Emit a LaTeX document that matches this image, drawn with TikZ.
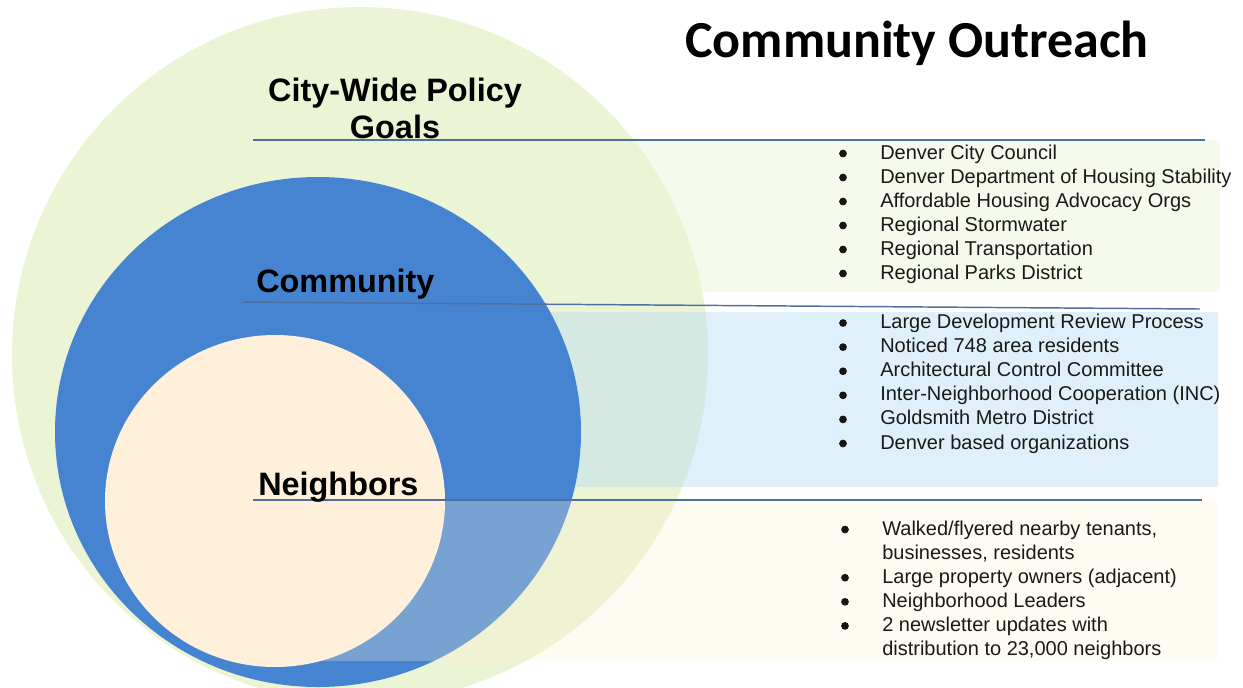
\documentclass[tikz,border=0pt]{standalone}
\usepackage{fontspec}
\setmainfont{Liberation Sans}
\newfontfamily\titlefont{Carlito}
\begin{document}
\begin{tikzpicture}[x=0.75pt,y=-0.75pt,
  ringlabel/.style={inner sep=0pt,font=\fontsize{24.3}{28}\selectfont\bfseries},
  item/.style={inner sep=0pt,anchor=base west,text=black!90,font=\fontsize{15}{18}\selectfont},
  dot/.style={circle,fill=black!92,inner sep=0pt,minimum size=5.8pt,yshift=5.5*0.75pt},
  rule/.style={draw={rgb,255:red,79;green,111;blue,160},line width=1.1pt}]
\definecolor{goalgreen}{RGB}{235,245,213}
\definecolor{bandgreen}{RGB}{245,250,236}
\definecolor{bandblue}{RGB}{175,217,245}
\definecolor{commblue}{RGB}{70,132,210}
\definecolor{neighcream}{RGB}{254,240,218}
\definecolor{bandcream}{RGB}{251,241,208}
\useasboundingbox (0,0) rectangle (1243,687);
\clip (0,0) rectangle (1243,687);

% bands and rings
\fill[bandgreen] (253,140) rectangle (1220,292);
\fill[goalgreen] (360,355) circle [radius=261pt];
\fill[bandblue,opacity=0.4] (400,312) rectangle (1218,487);
\fill[commblue] (318,432) ellipse [x radius=197.25pt, y radius=191.25pt];
\fill[bandcream,opacity=0.28] (255,500) rectangle (1217,661);
\fill[neighcream] (275,501) ellipse [x radius=127.5pt, y radius=124.5pt];

% divider rules
\coordinate (r1a) at (253,140); \coordinate (r1b) at (1205,140);
\coordinate (r2a) at (243,302); \coordinate (r2b) at (1200,309);
\coordinate (r3a) at (253,500); \coordinate (r3b) at (1202,500);
\draw[rule] (r1a) -- (r1b);
\draw[rule] (r2a) -- (r2b);
\draw[rule] (r3a) -- (r3b);

% headings
\node[inner sep=0pt,anchor=base west,font=\titlefont\fontsize{39}{44}\selectfont\bfseries] (title) at (685,57) {Community Outreach};
\node[ringlabel,anchor=base] (goals1) at (395,101) {City-Wide Policy};
\node[ringlabel,anchor=base] (goals2) at (395,138) {Goals};
\node[ringlabel,anchor=base west] (comm) at (256,292) {Community};
\node[ringlabel,anchor=base west] (neigh) at (258,495) {Neighbors};

% city-wide list
\foreach \t [count=\i] in {Denver City Council,Denver Department of Housing Stability,Affordable Housing Advocacy Orgs,Regional Stormwater,Regional Transportation,Regional Parks District}{
  \node[dot] (ga\i) at (843,{159+24*(\i-1)}) {};
  \node[item] (gt\i) at (880,{159+24*(\i-1)}) {\t};
}

% community list
\foreach \t [count=\i] in {Large Development Review Process,Noticed 748 area residents,Architectural Control Committee,Inter-Neighborhood Cooperation (INC),Goldsmith Metro District,Denver based organizations}{
  \node[dot] (ca\i) at (843,{328.5+24.1*(\i-1)}) {};
  \node[item] (ct\i) at (880,{328.5+24.1*(\i-1)}) {\t};
}

% neighbors list
\node[dot] (na1) at (845,535) {};
\node[item] (nt1) at (882,535) {Walked/flyered nearby tenants,};
\node[item] (nt1b) at (882,559.1) {businesses, residents};
\node[dot] (na2) at (845,583.2) {};
\node[item] (nt2) at (882,583.2) {Large property owners (adjacent)};
\node[dot] (na3) at (845,607.3) {};
\node[item] (nt3) at (882,607.3) {Neighborhood Leaders};
\node[dot] (na4) at (845,631.4) {};
\node[item] (nt4) at (882,631.4) {2 newsletter updates with};
\node[item] (nt4b) at (882,655.5) {distribution to 23,000 neighbors};
\end{tikzpicture}
\end{document}
